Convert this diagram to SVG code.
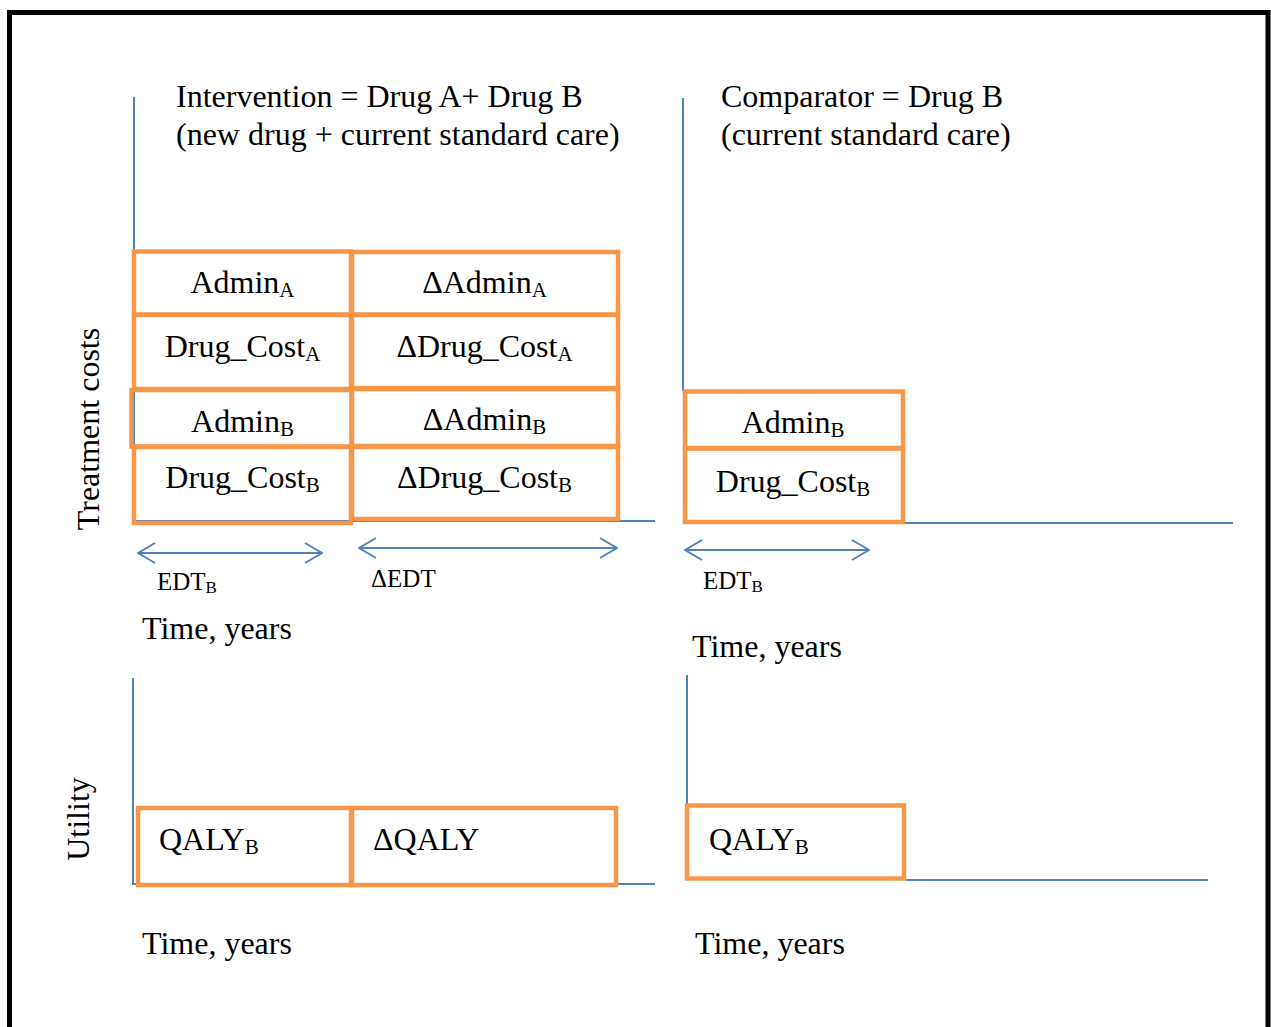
<svg xmlns="http://www.w3.org/2000/svg" width="1271" height="1027" viewBox="0 0 1271 1027">
<style>
  text { font-family: "Liberation Serif", "Times New Roman", serif; fill: #000; }
  .t32 { font-size: 32px; }
  .mid { text-anchor: middle; }
  .sub { font-size: 21px; }
  .edt { font-size: 25px; }
  .edtsub { font-size: 17px; }
  .box { fill: none; stroke: #F79646; stroke-width: 4.5; }
  .axis { fill: none; stroke: #4F81BD; stroke-width: 2; }
  .arrow { fill: none; stroke: #4F81BD; stroke-width: 2; marker-start: url(#chev); marker-end: url(#chev); }
</style>
<defs>
  <marker id="chev" viewBox="0 0 20 24" refX="19" refY="12" markerWidth="20" markerHeight="24" markerUnits="userSpaceOnUse" orient="auto-start-reverse">
    <path d="M2,2 L19,12 L2,22" fill="none" stroke="#4F81BD" stroke-width="2"/>
  </marker>
</defs>
<rect x="0" y="0" width="1271" height="1027" fill="#fff"/>
<rect x="9.5" y="12.5" width="1258.5" height="1040" fill="none" stroke="#000" stroke-width="5"/>

<g id="titles">
  <text class="t32" x="176" y="107">Intervention = Drug A+ Drug B</text>
  <text class="t32" x="176" y="145">(new drug + current standard care)</text>
  <text class="t32" x="721" y="107">Comparator = Drug B</text>
  <text class="t32" x="721" y="145">(current standard care)</text>
</g>

<g id="axis-labels">
  <text class="t32 mid" transform="translate(99,429) rotate(-90)">Treatment costs</text>
  <text class="t32 mid" transform="translate(89,819) rotate(-90)">Utility</text>
  <text class="t32" x="142" y="639">Time, years</text>
  <text class="t32" x="692" y="657">Time, years</text>
  <text class="t32" x="142" y="954">Time, years</text>
  <text class="t32" x="695" y="954">Time, years</text>
</g>

<g id="axes">
  <path class="axis" d="M134,97 V521 H655"/>
  <path class="axis" d="M683,98 V391"/>
  <path class="axis" d="M903,523 H1233"/>
  <path class="axis" d="M133,678 V884 H655"/>
  <path class="axis" d="M687,675 V805"/>
  <path class="axis" d="M905,880 H1208"/>
</g>

<g id="connectors">
  <line class="arrow" x1="138" y1="553" x2="322" y2="553"/>
  <line class="arrow" x1="359" y1="548" x2="617" y2="548"/>
  <line class="arrow" x1="685" y1="550" x2="869" y2="550"/>
</g>

<g id="duration-labels">
  <text class="edt" x="157" y="590">EDT<tspan class="edtsub" dy="3">B</tspan></text>
  <text class="edt" x="371" y="587">ΔEDT</text>
  <text class="edt" x="703" y="589">EDT<tspan class="edtsub" dy="3">B</tspan></text>
</g>

<g id="admin-a">
  <rect class="box" x="134" y="251.5" width="217" height="63"/>
  <text class="t32 mid" x="242.5" y="293">Admin<tspan class="sub" dy="4">A</tspan></text>
</g>
<g id="drug-cost-a">
  <rect class="box" x="134" y="315" width="217" height="74"/>
  <text class="t32 mid" x="242.5" y="357">Drug_Cost<tspan class="sub" dy="4">A</tspan></text>
</g>
<g id="admin-b-int">
  <rect class="box" x="131.5" y="390" width="220" height="56.5"/>
  <text class="t32 mid" x="242.5" y="432">Admin<tspan class="sub" dy="4">B</tspan></text>
</g>
<g id="drug-cost-b-int">
  <rect class="box" x="134" y="447" width="217" height="76"/>
  <text class="t32 mid" x="242.5" y="488">Drug_Cost<tspan class="sub" dy="4">B</tspan></text>
</g>

<g id="delta-admin-a">
  <rect class="box" x="352" y="252" width="266" height="62.5"/>
  <text class="t32 mid" x="484.5" y="293">ΔAdmin<tspan class="sub" dy="4">A</tspan></text>
</g>
<g id="delta-drug-cost-a">
  <rect class="box" x="352" y="315" width="266" height="73"/>
  <text class="t32 mid" x="484.5" y="357">ΔDrug_Cost<tspan class="sub" dy="4">A</tspan></text>
</g>
<g id="delta-admin-b">
  <rect class="box" x="352" y="389" width="266" height="57"/>
  <text class="t32 mid" x="484.5" y="430">ΔAdmin<tspan class="sub" dy="4">B</tspan></text>
</g>
<g id="delta-drug-cost-b">
  <rect class="box" x="352" y="447" width="266" height="72"/>
  <text class="t32 mid" x="484.5" y="488">ΔDrug_Cost<tspan class="sub" dy="4">B</tspan></text>
</g>

<g id="admin-b-comp">
  <rect class="box" x="685" y="391.5" width="218" height="56.5"/>
  <text class="t32 mid" x="793" y="433">Admin<tspan class="sub" dy="4">B</tspan></text>
</g>
<g id="drug-cost-b-comp">
  <rect class="box" x="685" y="448.5" width="218" height="73.5"/>
  <text class="t32 mid" x="793" y="492">Drug_Cost<tspan class="sub" dy="4">B</tspan></text>
</g>

<g id="qaly-b-int">
  <rect class="box" x="138" y="808" width="213" height="77"/>
  <text class="t32" x="159" y="850">QALY<tspan class="sub" dy="4">B</tspan></text>
</g>
<g id="delta-qaly">
  <rect class="box" x="352" y="808" width="264" height="77"/>
  <text class="t32" x="373" y="850">ΔQALY</text>
</g>
<g id="qaly-b-comp">
  <rect class="box" x="687" y="805.5" width="217" height="73"/>
  <text class="t32" x="709" y="850">QALY<tspan class="sub" dy="4">B</tspan></text>
</g>
</svg>
